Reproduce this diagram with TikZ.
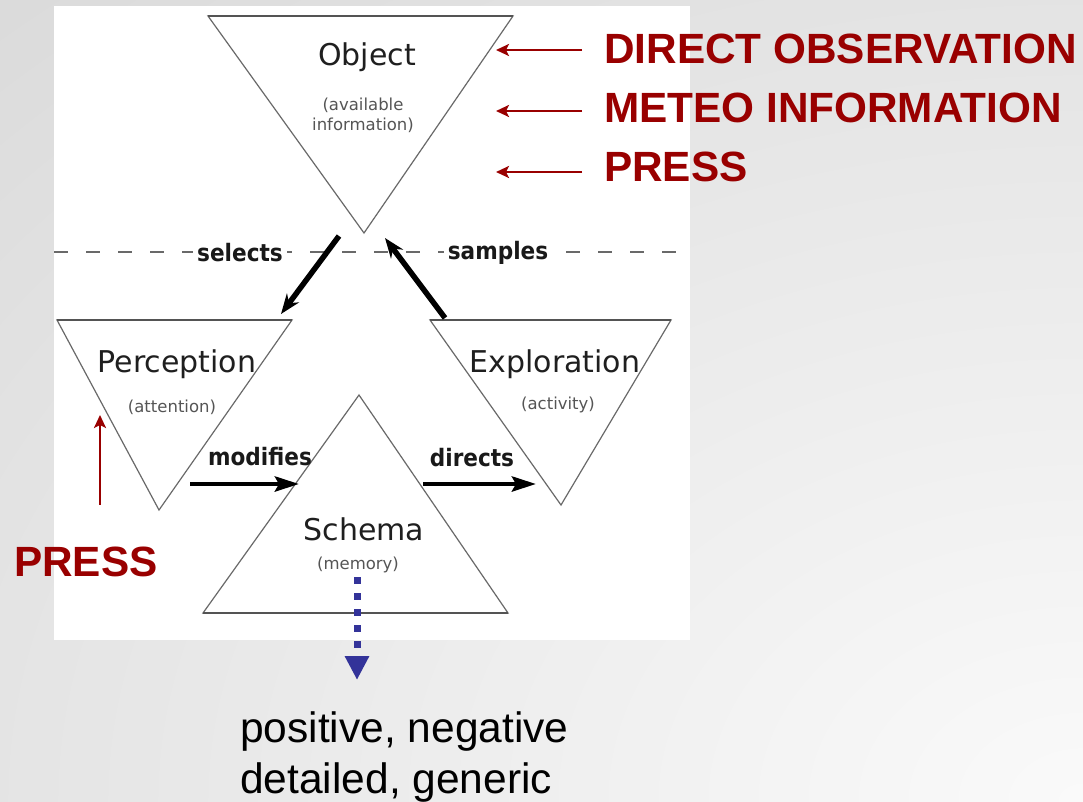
\documentclass[tikz,border=0pt]{standalone}
\usepackage{fontspec}
\setmainfont{Liberation Sans}
\newfontfamily\diagfont{DejaVu Sans}
\newfontfamily\verbfont{DejaVu Sans}[FakeStretch=0.9]
\usetikzlibrary{positioning,arrows.meta}
\definecolor{pressred}{RGB}{153,0,0}
\definecolor{memblue}{RGB}{51,51,153}
\definecolor{edgegray}{RGB}{105,105,105}
\definecolor{notegray}{RGB}{85,85,85}
\definecolor{bginner}{RGB}{250,250,250}
\definecolor{bgouter}{RGB}{202,202,202}
\tikzstyle{stage}=[draw=edgegray, line width=1.2pt, fill=white]
\tikzstyle{stagetop}=[draw=edgegray!80!black, line width=2pt]
\tikzstyle{stagename}=[font=\diagfont\fontsize{30}{36}\selectfont, text=black!88, inner sep=0pt, anchor=base]
\tikzstyle{stagenote}=[font=\diagfont\fontsize{16.5}{20}\selectfont, text=notegray, align=center, inner sep=0pt]
\tikzstyle{verblabel}=[font=\verbfont\bfseries\fontsize{24}{28}\selectfont, text=black!90, inner sep=0pt]
\tikzstyle{verbarrow}=[line width=4.5pt, -{Stealth[length=24pt, width=15pt, inset=4pt]}]
\tikzstyle{srclabel}=[font=\bfseries\fontsize{42.3}{48}\selectfont, text=pressred, inner sep=0pt, text height=30pt, text depth=0pt]
\tikzstyle{srcarrow}=[draw=pressred, line width=2.4pt, -{Stealth[length=13pt, width=12pt, inset=3pt]}]
\tikzstyle{memarrow}=[draw=memblue, line width=7pt, dash pattern=on 7pt off 9pt, -{Triangle[length=24pt, width=23pt]}]
\tikzstyle{outcome}=[font=\fontsize{42.5}{51}\selectfont, text=black, inner sep=0pt, anchor=base west]

\begin{document}
\begin{tikzpicture}[x=1pt, y=-1pt, node distance=29pt]
        \useasboundingbox (0,0) rectangle (1083,801);
        % slide background and the white picture area
        \begin{scope}
          \clip (0,0) rectangle (1083,801);
          \shade[inner color=bginner, outer color=bgouter] (1083,801) ellipse (2400pt and 1700pt);
        \end{scope}
        \fill[white] (54,6) rectangle (690,640);

        % corners of the four stages
        \coordinate (o1) at (208,16);  \coordinate (o2) at (513,16);  \coordinate (o3) at (364,233);
        \coordinate (p1) at (57,320);  \coordinate (p2) at (292,320); \coordinate (p3) at (159,510);
        \coordinate (e1) at (430,320); \coordinate (e2) at (671,320); \coordinate (e3) at (561,505);
        \coordinate (s1) at (203,613); \coordinate (s2) at (508,613); \coordinate (s3) at (359,395);

        % dashed border line
        \coordinate (dl) at (54,252);
        \coordinate (dr) at (690,252);
        \draw[edgegray, line width=1.3pt, dash pattern=on 14pt off 18pt] (dl) -- (dr);

        \draw[stage] (o1) -- (o2) -- (o3) -- cycle;
        \draw[stage] (p1) -- (p2) -- (p3) -- cycle;
        \draw[stage] (e1) -- (e2) -- (e3) -- cycle;
        \draw[stage] (s1) -- (s2) -- (s3) -- cycle;
        \draw[stagetop] (o1) -- (o2);
        \draw[stagetop] (p1) -- (p2);
        \draw[stagetop] (e1) -- (e2);
        \draw[stagetop] (s1) -- (s2);

        \node (object) [stagename] at (367,65) {Object};
        \node (objnote) [stagenote] at (363,115) {(available\\information)};
        \node (perception) [stagename] at (177,372) {Perception};
        \node (percnote) [stagenote] at (172,407) {(attention)};
        \node (exploration) [stagename] at (555,372) {Exploration};
        \node (explnote) [stagenote] at (558,405) {(activity)};
        \node (schema) [stagename] at (364,540) {Schema};
        \node (memnote) [stagenote] at (358,565) {(memory)};

        % cycle arrows
        \node (selects) [verblabel, fill=white, inner xsep=4pt] at (240,253) {selects};
        \node (samples) [verblabel, fill=white, inner xsep=4pt] at (498,253) {samples};
        \node (modifies) [verblabel] at (260,457) {modifies};
        \node (directs) [verblabel] at (472,458) {directs};
        \coordinate (selfrom) at (339,236); \coordinate (selto) at (281,314);
        \coordinate (samfrom) at (445,318); \coordinate (samto) at (385,238);
        \coordinate (modfrom) at (190,484); \coordinate (modto) at (299,484);
        \coordinate (dirfrom) at (423,484); \coordinate (dirto) at (536,484);
        \draw[line width=5.5pt, -{Stealth[length=20pt, width=15pt]}] (selfrom) -- (selto);
        \draw[line width=5.5pt, -{Stealth[length=20pt, width=15pt]}] (samfrom) -- (samto);
        \draw[verbarrow] (modfrom) -- (modto);
        \draw[verbarrow] (dirfrom) -- (dirto);

        % information sources
        \node (dobs) [srclabel, anchor=base west] at (604,63) {DIRECT OBSERVATION};
        \node (meteo) [srclabel, below=of dobs.south west, anchor=north west] {METEO INFORMATION};
        \node (press) [srclabel, below=of meteo.south west, anchor=north west] {PRESS};
        \coordinate (objin1) at (496,50);
        \coordinate (objin2) at (496,111);
        \coordinate (objin3) at (496,172);
        \draw[srcarrow, shorten <=22pt] (dobs.west |- objin1) -- (objin1);
        \draw[srcarrow, shorten <=22pt] (meteo.west |- objin2) -- (objin2);
        \draw[srcarrow, shorten <=22pt] (press.west |- objin3) -- (objin3);

        \node (presslow) [srclabel, anchor=base west] at (14,576) {PRESS};
        \coordinate (percin) at (100,415);
        \draw[srcarrow, shorten <=41pt] (presslow.north -| percin) -- (percin);

        % memory output
        \coordinate (memout) at (357,680);
        \draw[memarrow, shorten <=4pt] (memnote.south -| memout) -- (memout);
        \node (outcome1) [outcome] at (240,742) {positive, negative};
        \node (outcome2) [outcome] at (240,793) {detailed, generic};
\end{tikzpicture}
\end{document}
